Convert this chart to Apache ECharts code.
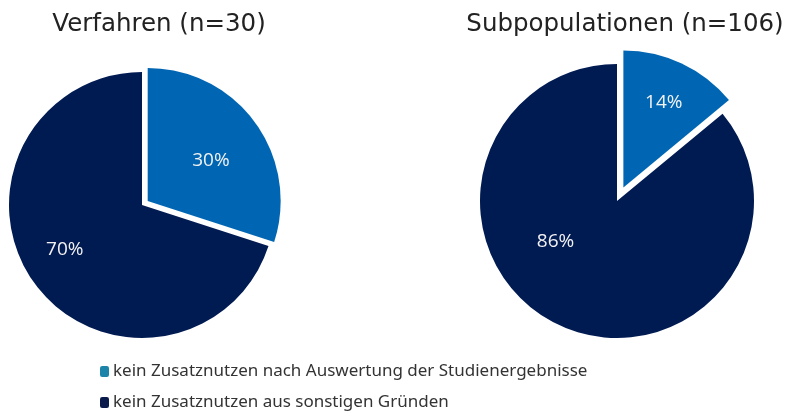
<!DOCTYPE html>
<html>
<head>
<meta charset="utf-8">
<script src="https://cdn.jsdelivr.net/npm/echarts@6/dist/echarts.min.js"></script>
<style>
  html, body { margin: 0; padding: 0; background: #ffffff; }
  #chart { width: 792px; height: 416px; }
</style>
</head>
<body>
<div id="chart"></div>
<script>
// ---- data ----
const categories = [
  'kein Zusatznutzen nach Auswertung der Studienergebnisse',
  'kein Zusatznutzen aus sonstigen Gründen'
];
const verfahrenValues = [30, 70];          // percent, n=30
const subpopValues = [14, 86];             // percent, n=106
const titles = ['Verfahren (n=30)', 'Subpopulationen (n=106)'];

// ---- style / layout ----
const colors = ['#0066b3', '#001a52'];
const legendIconColors = ['#1c84a8', '#0a1a4a'];
const labelNudge = [
  [[7, 1], [-21, 4]],
  [[10, -20], [-31, -24]]
];

function makeData(values) {
  return values.map((v, i) => ({
    name: categories[i],
    value: v,
    selected: i === 0,
    itemStyle: { color: colors[i] }
  }));
}

function makeSeries(idx, values, center, radius, offset) {
  return {
    type: 'pie',
    center: center,
    radius: radius,
    startAngle: 90,
    clockwise: true,
    selectedMode: 'single',
    selectedOffset: offset,
    silent: true,
    animation: false,
    emphasis: { disabled: true },
    label: {
      show: true,
      position: 'inside',
      formatter: '{c}%',
      color: '#f2f2f2',
      fontFamily: 'Open Sans',
      fontSize: 19
    },
    labelLine: { show: false },
    labelLayout: function (p) {
      const n = labelNudge[idx][p.dataIndex];
      return { dx: n[0], dy: n[1] };
    },
    data: makeData(values)
  };
}

const titleStyle = { fontFamily: 'DejaVu Sans', fontSize: 24.5, fontWeight: 'normal', color: '#222222' };

const chart = echarts.init(document.getElementById('chart'), null, { renderer: 'canvas' });
chart.setOption({
  backgroundColor: '#ffffff',
  animation: false,
  title: [
    { text: titles[0], left: 159, top: 12, padding: 0, textAlign: 'center', textStyle: titleStyle },
    { text: titles[1], left: 625, top: 12, padding: 0, textAlign: 'center', textStyle: titleStyle }
  ],
  legend: {
    orient: 'vertical',
    left: 100,
    top: 363,
    padding: 0,
    itemWidth: 9,
    itemHeight: 11,
    itemGap: 14,
    icon: 'roundRect',
    selectedMode: false,
    textStyle: { fontFamily: 'Noto Sans', fontSize: 17, color: '#333333', padding: [0, 0, 0, -1] },
    data: categories.map((c, i) => ({ name: c, itemStyle: { color: legendIconColors[i] } }))
  },
  series: [
    makeSeries(0, verfahrenValues, [142, 205], 133, 7),
    makeSeries(1, subpopValues, [617, 201], 137, 15)
  ]
});
</script>
</body>
</html>
